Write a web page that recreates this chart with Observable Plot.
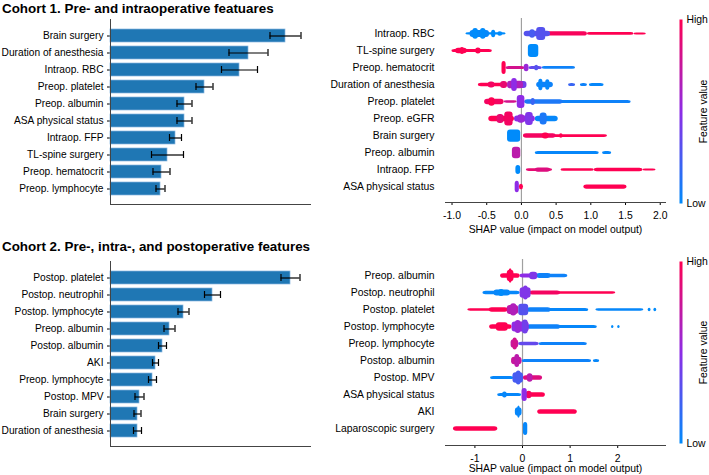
<!DOCTYPE html>
<html><head><meta charset="utf-8">
<script src="https://cdn.jsdelivr.net/npm/d3@7"></script>
<script src="https://cdn.jsdelivr.net/npm/@observablehq/plot@0.6"></script>
<style>
body{margin:0;background:#fff;font-family:"Liberation Sans",Arial,sans-serif;}
#root{position:relative;width:709px;height:475px;overflow:hidden;background:#fff;}
.title{position:absolute;left:2px;font-weight:bold;font-size:13.4px;line-height:1;color:#000;white-space:nowrap;}
.chart{position:absolute;}
</style></head><body><div id="root"></div>
<script>
// ---------- Titles ----------
const titles = ["Cohort 1. Pre- and intraoperative featuares", "Cohort 2. Pre-, intra-, and postoperative features"];

// ---------- Bar charts: mean |SHAP| with error ----------
const bars1Features = ["Brain surgery","Duration of anesthesia","Intraop. RBC","Preop. platelet","Preop. albumin","ASA physical status","Intraop. FFP","TL-spine surgery","Preop. hematocrit","Preop. lymphocyte"];
const bars1Means = [0.175, 0.138, 0.129, 0.094, 0.074, 0.074, 0.065, 0.057, 0.051, 0.050];
const bars1Errs  = [0.0155, 0.0195, 0.018, 0.0085, 0.0075, 0.0075, 0.006, 0.016, 0.0085, 0.0045];

const bars2Features = ["Postop. platelet","Postop. neutrophil","Postop. lymphocyte","Preop. albumin","Postop. albumin","AKI","Preop. lymphocyte","Postop. MPV","Brain surgery","Duration of anesthesia"];
const bars2Means = [0.180, 0.102, 0.073, 0.059, 0.052, 0.045, 0.042, 0.029, 0.027, 0.027];
const bars2Errs  = [0.0095, 0.008, 0.0055, 0.0055, 0.004, 0.003, 0.004, 0.0045, 0.0035, 0.004];

// ---------- SHAP summary (beeswarm) approximated as density segments ----------
// [feature, shapFrom, shapTo, featureValue(0 low..1 high), relative density 0..1]
const shap1Features = ["Intraop. RBC","TL-spine surgery","Preop. hematocrit","Duration of anesthesia","Preop. platelet","Preop. eGFR","Brain surgery","Preop. albumin","Intraop. FFP","ASA physical status"];
const shap1Ticks = [-1, -0.5, 0, 0.5, 1, 1.5, 2];
const shap1Segments = [
  ["Intraop. RBC", -0.80, -0.22, 0.0, 0.15],
  ["Intraop. RBC", -0.74, -0.46, 0.02, 0.45],
  ["Intraop. RBC", -0.70, -0.62, 0.0, 0.7],
  ["Intraop. RBC", -0.59, -0.51, 0.0, 0.7],
  ["Intraop. RBC", -0.43, -0.37, 0.0, 0.5],
  ["Intraop. RBC", -0.34, -0.27, 0.0, 0.3],
  ["Intraop. RBC", 0.04, 0.42, 0.3, 0.35],
  ["Intraop. RBC", 0.12, 0.20, 0.25, 0.55],
  ["Intraop. RBC", 0.22, 0.35, 0.3, 0.85],
  ["Intraop. RBC", 0.35, 0.95, 0.97, 0.28],
  ["Intraop. RBC", 0.95, 1.62, 1.0, 0.18],
  ["Intraop. RBC", 1.62, 1.80, 1.0, 0.12],
  ["TL-spine surgery", -1.00, -0.42, 1.0, 0.2],
  ["TL-spine surgery", -0.95, -0.78, 1.0, 0.35],
  ["TL-spine surgery", -0.88, -0.82, 1.0, 0.45],
  ["TL-spine surgery", -0.66, -0.58, 1.0, 0.4],
  ["TL-spine surgery", 0.10, 0.25, 0.0, 0.85],
  ["Preop. hematocrit", -0.28, -0.22, 1.0, 0.85],
  ["Preop. hematocrit", -0.22, 0.05, 0.8, 0.2],
  ["Preop. hematocrit", 0.04, 0.11, 0.55, 0.5],
  ["Preop. hematocrit", 0.11, 0.30, 0.35, 0.2],
  ["Preop. hematocrit", 0.19, 0.25, 0.3, 0.35],
  ["Preop. hematocrit", 0.30, 0.78, 0.05, 0.18],
  ["Duration of anesthesia", -0.62, -0.20, 1.0, 0.22],
  ["Duration of anesthesia", -0.48, -0.38, 0.95, 0.4],
  ["Duration of anesthesia", -0.30, -0.20, 0.9, 0.45],
  ["Duration of anesthesia", -0.20, 0.03, 0.65, 0.5],
  ["Duration of anesthesia", -0.14, -0.06, 0.5, 0.85],
  ["Duration of anesthesia", -0.03, 0.08, 0.4, 0.45],
  ["Duration of anesthesia", 0.22, 0.46, 0.05, 0.35],
  ["Duration of anesthesia", 0.25, 0.31, 0.02, 0.75],
  ["Duration of anesthesia", 0.35, 0.41, 0.02, 0.7],
  ["Duration of anesthesia", 0.68, 0.78, 0.2, 0.2],
  ["Duration of anesthesia", 0.85, 0.95, 0.05, 0.2],
  ["Duration of anesthesia", 0.98, 1.19, 0.02, 0.2],
  ["Preop. platelet", -0.53, -0.25, 0.95, 0.35],
  ["Preop. platelet", -0.47, -0.38, 1.0, 0.55],
  ["Preop. platelet", -0.25, -0.06, 0.8, 0.15],
  ["Preop. platelet", -0.06, 0.05, 0.5, 0.85],
  ["Preop. platelet", 0.05, 1.58, 0.05, 0.2],
  ["Preop. platelet", 0.05, 0.60, 0.1, 0.28],
  ["Preop. platelet", 0.14, 0.20, 0.2, 0.45],
  ["Preop. eGFR", -0.47, -0.10, 1.0, 0.35],
  ["Preop. eGFR", -0.10, 0.20, 0.5, 0.4],
  ["Preop. eGFR", 0.20, 0.53, 0.02, 0.35],
  ["Preop. eGFR", -0.35, -0.25, 0.9, 0.6],
  ["Preop. eGFR", -0.24, -0.12, 0.95, 0.9],
  ["Preop. eGFR", -0.05, 0.05, 0.55, 0.55],
  ["Preop. eGFR", 0.06, 0.17, 0.45, 0.85],
  ["Preop. eGFR", 0.27, 0.37, 0.1, 0.8],
  ["Brain surgery", -0.20, -0.01, 0.0, 0.8],
  ["Brain surgery", 0.03, 1.24, 1.0, 0.18],
  ["Brain surgery", 0.03, 0.50, 0.95, 0.28],
  ["Brain surgery", 0.30, 0.40, 1.0, 0.4],
  ["Brain surgery", 0.55, 0.60, 1.0, 0.3],
  ["Preop. albumin", -0.13, -0.01, 0.7, 0.75],
  ["Preop. albumin", 0.20, 1.12, 0.02, 0.2],
  ["Preop. albumin", 1.17, 1.30, 0.02, 0.2],
  ["Intraop. FFP", -0.08, -0.01, 0.0, 0.6],
  ["Intraop. FFP", 0.07, 0.45, 0.9, 0.18],
  ["Intraop. FFP", 0.20, 0.42, 0.85, 0.28],
  ["Intraop. FFP", 0.57, 1.05, 1.0, 0.16],
  ["Intraop. FFP", 1.05, 1.75, 1.0, 0.22],
  ["Intraop. FFP", 1.75, 1.94, 1.0, 0.12],
  ["ASA physical status", -0.09, -0.03, 0.5, 0.75],
  ["ASA physical status", -0.03, 0.03, 1.0, 0.35],
  ["ASA physical status", 0.90, 1.52, 1.0, 0.28]
];

const shap2Features = ["Preop. albumin","Postop. neutrophil","Postop. platelet","Postop. lymphocyte","Preop. lymphocyte","Postop. albumin","Postop. MPV","ASA physical status","AKI","Laparoscopic surgery"];
const shap2Ticks = [-1, 0, 1, 2];
const shap2Segments = [
  ["Preop. albumin", -0.46, -0.05, 1.0, 0.3],
  ["Preop. albumin", -0.32, -0.18, 1.0, 0.75],
  ["Preop. albumin", -0.28, -0.22, 1.0, 0.95],
  ["Preop. albumin", -0.05, 0.34, 0.5, 0.25],
  ["Preop. albumin", 0.15, 0.32, 0.45, 0.5],
  ["Preop. albumin", 0.30, 0.95, 0.05, 0.22],
  ["Preop. albumin", 0.30, 0.60, 0.05, 0.32],
  ["Postop. neutrophil", -0.83, -0.05, 0.02, 0.22],
  ["Postop. neutrophil", -0.60, -0.25, 0.02, 0.38],
  ["Postop. neutrophil", -0.50, -0.38, 0.0, 0.45],
  ["Postop. neutrophil", -0.05, 0.18, 0.45, 0.7],
  ["Postop. neutrophil", 0.02, 0.12, 0.45, 0.9],
  ["Postop. neutrophil", 0.15, 1.96, 1.0, 0.15],
  ["Postop. neutrophil", 0.15, 0.80, 0.95, 0.26],
  ["Postop. platelet", -1.15, -0.30, 1.0, 0.15],
  ["Postop. platelet", -0.70, -0.30, 1.0, 0.28],
  ["Postop. platelet", -0.32, -0.08, 0.7, 0.6],
  ["Postop. platelet", -0.25, -0.12, 0.65, 0.8],
  ["Postop. platelet", -0.08, 0.13, 0.3, 0.75],
  ["Postop. platelet", 0.10, 1.39, 0.02, 0.2],
  ["Postop. platelet", 0.10, 0.60, 0.05, 0.3],
  ["Postop. platelet", 1.54, 2.55, 0.02, 0.15],
  ["Postop. platelet", 2.64, 2.70, 0.0, 0.22],
  ["Postop. platelet", 2.76, 2.82, 0.0, 0.22],
  ["Postop. lymphocyte", -0.69, -0.22, 1.0, 0.3],
  ["Postop. lymphocyte", -0.55, -0.30, 1.0, 0.55],
  ["Postop. lymphocyte", -0.22, 0.14, 0.5, 0.65],
  ["Postop. lymphocyte", -0.15, -0.03, 0.55, 0.85],
  ["Postop. lymphocyte", 0.00, 0.12, 0.4, 0.9],
  ["Postop. lymphocyte", 0.10, 1.57, 0.02, 0.2],
  ["Postop. lymphocyte", 0.10, 0.80, 0.05, 0.3],
  ["Postop. lymphocyte", 1.87, 1.92, 0.0, 0.2],
  ["Postop. lymphocyte", 2.00, 2.05, 0.0, 0.2],
  ["Preop. lymphocyte", -0.24, -0.08, 0.75, 0.55],
  ["Preop. lymphocyte", -0.20, -0.11, 0.8, 0.8],
  ["Preop. lymphocyte", -0.08, 0.35, 0.35, 0.22],
  ["Preop. lymphocyte", 0.35, 1.36, 0.05, 0.2],
  ["Postop. albumin", -0.23, -0.01, 0.75, 0.5],
  ["Postop. albumin", -0.16, -0.06, 0.7, 0.85],
  ["Postop. albumin", -0.01, 1.45, 0.05, 0.2],
  ["Postop. albumin", 1.49, 1.62, 0.02, 0.2],
  ["Postop. MPV", -0.67, -0.18, 0.02, 0.2],
  ["Postop. MPV", -0.20, 0.02, 0.25, 0.7],
  ["Postop. MPV", -0.13, -0.03, 0.25, 0.9],
  ["Postop. MPV", 0.02, 0.42, 0.85, 0.3],
  ["Postop. MPV", 0.10, 0.22, 0.7, 0.55],
  ["ASA physical status", -0.52, -0.02, 0.02, 0.2],
  ["ASA physical status", -0.42, -0.32, 0.02, 0.4],
  ["ASA physical status", -0.01, 0.10, 0.5, 0.85],
  ["ASA physical status", 0.08, 0.48, 1.0, 0.3],
  ["ASA physical status", 0.08, 0.20, 0.95, 0.5],
  ["AKI", -0.15, -0.01, 0.02, 0.55],
  ["AKI", -0.10, -0.05, 0.02, 0.8],
  ["AKI", 0.32, 1.15, 1.0, 0.3],
  ["Laparoscopic surgery", -1.45, -0.52, 1.0, 0.28],
  ["Laparoscopic surgery", 0.02, 0.11, 0.02, 0.85]
];

const legendLabels = ["Low", "High"];
const legendTitle = ["Feature value"];
const xTitle = "SHAP value (impact on model output)";

// ---------- shared styles ----------
const FONT = "'Liberation Sans', Arial, sans-serif";
const colorOpts = {type: "linear", domain: [0, 0.5, 1], range: ["#008bfb", "#8e2ce6", "#ff0052"], interpolate: "rgb"};
const AXIS = "#444";
const root = document.getElementById("root");

function place(node, left, top, w) {
  const div = document.createElement("div");
  div.className = "chart";
  div.style.left = left + "px";
  div.style.top = top + "px";
  div.style.width = w + "px";
  div.appendChild(node);
  root.appendChild(div);
}
titles.forEach((t, i) => {
  const d = document.createElement("div");
  d.className = "title";
  d.textContent = t;
  d.style.top = (i === 0 ? 1.5 : 240) + "px";
  root.appendChild(d);
});

function barPlot(features, means, errs) {
  const data = features.map((f, i) => ({f, m: means[i], e: errs[i]}));
  return Plot.plot({
    width: 320, height: 215, marginLeft: 110, marginRight: 10, marginTop: 19, marginBottom: 11,
    style: {fontFamily: FONT, fontSize: "10.2px", color: "#000", background: "transparent"},
    x: {domain: [0, 0.2], axis: null},
    y: {domain: features, paddingInner: 0.24, paddingOuter: 0.49, tickSize: 3, tickPadding: 4, label: null},
    marks: [
      Plot.barX(data, {x: "m", y: "f", fill: "#1f77b4", stroke: "#86b6df", strokeWidth: 0.7}),
      Plot.ruleY(data, {y: "f", x1: d => d.m - d.e, x2: d => d.m + d.e, stroke: "#000", strokeWidth: 1.2}),
      Plot.tickX(data, {x: d => d.m - d.e, y: "f", stroke: "#000", strokeWidth: 1.2, insetTop: 3, insetBottom: 3}),
      Plot.tickX(data, {x: d => d.m + d.e, y: "f", stroke: "#000", strokeWidth: 1.2, insetTop: 3, insetBottom: 3}),
      Plot.ruleX([0], {stroke: AXIS}),
      Plot.frame({anchor: "bottom", stroke: AXIS})
    ]
  });
}

function shapPlot(features, segments, xdom, ticks, fmt, pad, mt, mb, labelOffset) {
  const n = features.length;
  const rows = segments.map(([f, x1, x2, c, d]) => ({f, i: features.indexOf(f), x1, x2, c, d}))
    .sort((a, b) => a.d - b.d);
  return Plot.plot({
    width: 360, height: 235, marginLeft: 125, marginRight: 15, marginTop: mt, marginBottom: mb,
    style: {fontFamily: FONT, fontSize: "10.4px", color: "#000", background: "transparent"},
    x: {domain: xdom, ticks, tickFormat: fmt, tickSize: 3, label: xTitle, labelAnchor: "center", labelOffset, labelArrow: "none"},
    y: {domain: [n - 1 + pad, -pad], ticks: d3.range(n), tickFormat: i => features[i], tickSize: 0, tickPadding: 11, label: null},
    color: colorOpts,
    marks: [
      Plot.ruleX([0], {stroke: "#a0a0a0", strokeWidth: 1.2}),
      Plot.rect(rows, {x1: "x1", x2: "x2", y1: d => d.i - d.d * 0.45, y2: d => d.i + d.d * 0.45, fill: "c", rx: 3}),
      Plot.frame({anchor: "bottom", stroke: AXIS})
    ]
  });
}

function colorBar(mb) {
  return Plot.plot({
    width: 37, height: 220, marginLeft: 7, marginRight: 27, marginTop: 19, marginBottom: mb,
    style: {fontFamily: FONT, fontSize: "10.4px", color: "#000", background: "transparent"},
    x: {domain: [0, 1], axis: null},
    y: {domain: [0, 1], axis: null},
    color: colorOpts,
    marks: [
      Plot.raster({x1: 0, x2: 1, y1: 0, y2: 1, width: 1, height: 120, fill: (x, y) => y}),
      Plot.text(legendLabels, {x: 1, y: (d, i) => i, text: d => d, textAnchor: "start", dx: 4}),
      Plot.text(legendTitle, {x: 1, y: 0.5, text: d => d, rotate: -90, dx: 21})
    ]
  });
}

place(barPlot(bars1Features, bars1Means, bars1Errs), 0, 0, 320);
place(barPlot(bars2Features, bars2Means, bars2Errs), 0, 242, 320);
place(shapPlot(shap1Features, shap1Segments, [-1.094, 2.076], shap1Ticks, d => d.toFixed(1), 0.91, 18, 33, 30), 320, 0, 360);
place(shapPlot(shap2Features, shap2Segments, [-1.618, 3.004], shap2Ticks, d => String(d), 0.97, 19, 30, 26), 320, 240, 360);
place(colorBar(17), 672, 0, 37);
place(colorBar(19), 672, 242, 37);
</script>
</body></html>
